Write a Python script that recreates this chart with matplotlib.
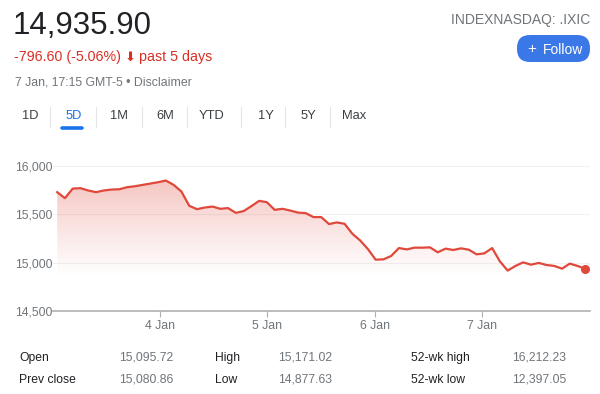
import matplotlib.pyplot as plt
import numpy as np
from matplotlib.patches import FancyBboxPatch, Polygon

plt.rcParams['font.family'] = ['Liberation Sans', 'DejaVu Sans']

# Index prices, 30 min steps over 5 trading days (3 Jan - 7 Jan)
prices = [15729, 15667, 15766, 15770, 15746, 15729, 15746, 15756, 15759, 15780,
          15790, 15804, 15818, 15832, 15849, 15804, 15735, 15588, 15553, 15570,
          15580, 15557, 15564, 15515, 15533, 15584, 15639, 15625, 15546, 15557,
          15539, 15518, 15512, 15471, 15471, 15399, 15416, 15402, 15299, 15230,
          15141, 15031, 15034, 15069, 15151, 15137, 15155, 15155, 15158, 15107,
          15145, 15131, 15148, 15134, 15086, 15096, 15151, 15013, 14918, 14966,
          15003, 14979, 14997, 14976, 14966, 14938, 14990, 14966, 14936]
day_labels = ["4 Jan", "5 Jan", "6 Jan", "7 Jan"]
day_starts = [13.26, 27.0, 40.9, 54.7]
y_ticks = [14500, 15000, 15500, 16000]

tabs = ["1D", "5D", "1M", "6M", "YTD", "1Y", "5Y", "Max"]
stats_left = [("Open", "15,095.72"), ("Prev close", "15,080.86")]
stats_mid = [("High", "15,171.02"), ("Low", "14,877.63")]
stats_right = [("52-wk high", "16,212.23"), ("52-wk low", "12,397.05")]

RED = '#e0483b'
GREY = '#70757a'
DARK = '#202124'
BLUE = '#1a73e8'

fig = plt.figure(figsize=(6, 3.94), dpi=100)

# ---- chart ----
ax = fig.add_axes([53.3 / 600, 1 - 311 / 394, (590 - 53.3) / 600, (311 - 150) / 394])
x = np.arange(len(prices))
y = np.array(prices, dtype=float)
base = 14850
ax.set_xlim(-0.5, len(prices) - 0.4)
ax.set_ylim(14500, 16165)

# gradient fill under the line
top = y.max()
grad = np.linspace(0, 1, 256)
img = np.zeros((256, 1, 4))
img[:, 0, 0] = 0.88
img[:, 0, 1] = 0.30
img[:, 0, 2] = 0.25
img[:, 0, 3] = 0.32 * grad ** 1.1
im = ax.imshow(img, extent=[x[0], x[-1], base, top], origin='lower', aspect='auto', zorder=1)
poly = Polygon(np.column_stack([np.r_[x, x[-1], x[0]], np.r_[y, base, base]]),
               closed=True, facecolor='none', edgecolor='none')
ax.add_patch(poly)
im.set_clip_path(poly)

ax.plot(x, y, color=RED, lw=1.6, zorder=3, solid_joinstyle='round')
ax.plot(x[-1], y[-1], 'o', color=RED, ms=5.5, zorder=4)

for v in y_ticks[1:]:
    ax.axhline(v, color='#f1f1f1', lw=0.8, zorder=0)
for s in ['top', 'right', 'left']:
    ax.spines[s].set_visible(False)
ax.spines['bottom'].set_color('#b0b0b0')
ax.spines['bottom'].set_linewidth(1.2)
ax.set_yticks(y_ticks)
ax.set_yticklabels([f"{v:,}" for v in y_ticks])
ax.set_xticks(day_starts)
ax.set_xticklabels(day_labels)
ax.tick_params(axis='y', length=0, pad=0.5, labelsize=8.8, labelcolor=GREY)
ax.tick_params(axis='x', length=4, color='#b0b0b0', pad=2.5, labelsize=8.8, labelcolor=GREY)
ax.set_facecolor('none')

# ---- header and stats, pixel coordinates ----
ov = fig.add_axes([0, 0, 1, 1], zorder=-1)
ov.set_xlim(0, 600)
ov.set_ylim(394, 0)
ov.axis('off')

ov.text(13, 26, "14,935.90", fontsize=22.5, color=DARK, va='center', ha='left')
ov.text(14, 57, "-796.60 (-5.06%)", fontsize=10.3, color='#d93025', va='center', ha='left')
ov.text(130, 57, "\u2b07", fontsize=9.5, color='#d93025', va='center', ha='center',
        family='DejaVu Sans')
ov.text(139, 57, "past 5 days", fontsize=10.3, color='#d93025', va='center', ha='left')
ov.text(15, 82, "7 Jan, 17:15 GMT-5 \u2022 Disclaimer", fontsize=8.8, color=GREY,
        va='center', ha='left')
ov.text(590, 20, "INDEXNASDAQ: .IXIC", fontsize=10, color=GREY, va='center', ha='right')

btn = FancyBboxPatch((517, 35), 73, 27, boxstyle="round,pad=0,rounding_size=13",
                     facecolor='#3b78e7', edgecolor='none')
ov.add_patch(btn)
ov.text(532, 48.5, "+", fontsize=11, color='white', va='center', ha='center')
ov.text(563, 49.5, "Follow", fontsize=10, color='white', va='center', ha='center')

tab_x = [30, 74, 119, 165, 212, 266, 308, 354]
for t, tx in zip(tabs, tab_x):
    ov.text(tx, 116, t, fontsize=9.3, color=BLUE if t == "5D" else '#3c4043',
            va='center', ha='center')
for sx in [49.5, 95.5, 141.5, 187, 240.5, 285, 330]:
    ov.plot([sx, sx], [107, 126.5], color='#e6e6e6', lw=0.8)
ov.plot([61.5, 82], [128, 128], color=BLUE, lw=2.6, solid_capstyle='round')

rows_y = [358, 380]
for col, (lx, vx) in zip([stats_left, stats_mid, stats_right], [(19, 119), (215, 278), (411, 512)]):
    for (lab, val), ry in zip(col, rows_y):
        ov.text(lx, ry, lab, fontsize=8.7, color=DARK, va='center', ha='left')
        ov.text(vx, ry, val, fontsize=8.7, color=GREY, va='center', ha='left')

fig.savefig("out.png", dpi=100)
